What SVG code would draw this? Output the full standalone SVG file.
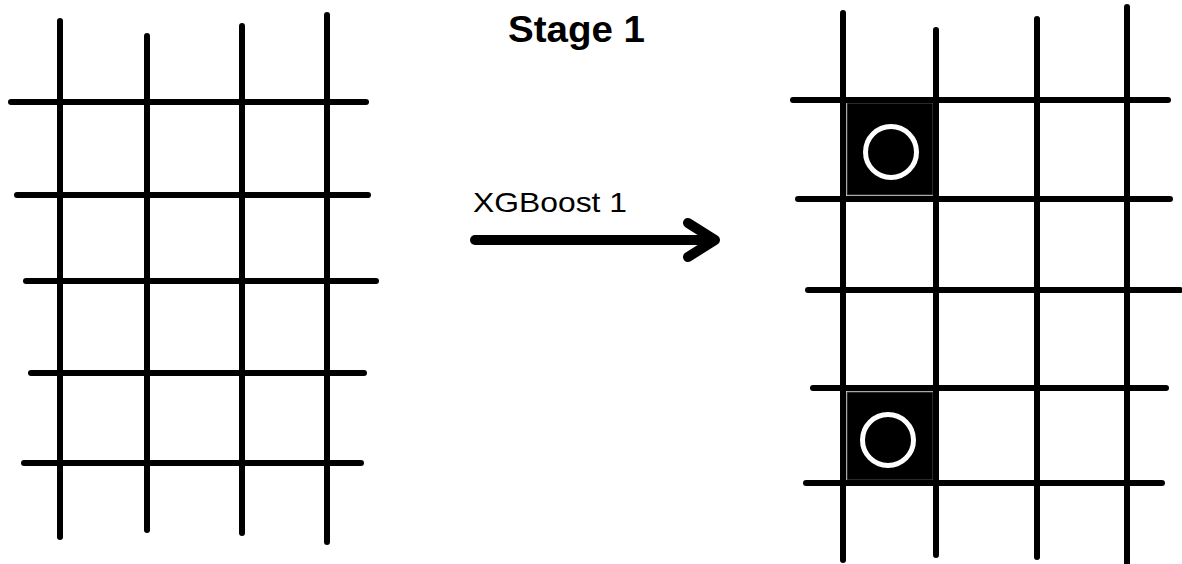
<svg xmlns="http://www.w3.org/2000/svg" width="1182" height="564" viewBox="0 0 1182 564">
  <style>
    .grid line { stroke: #000; stroke-width: 6; stroke-linecap: round; }
    .cell { fill: #000; stroke: #555; stroke-width: 1; }
    .mark { fill: none; stroke: #fff; stroke-width: 5; }
    .title { font-family: "Liberation Sans", Arial, sans-serif; font-weight: bold; font-size: 36px; fill: #000; }
    .label { font-family: "Liberation Sans", Arial, sans-serif; font-size: 28px; fill: #000; }
    .flow { fill: none; stroke: #000; stroke-width: 10; stroke-linecap: round; stroke-linejoin: round; }
  </style>
  <rect width="1182" height="564" fill="#fff"/>

  <text id="title" class="title" x="508" y="42" textLength="137" lengthAdjust="spacingAndGlyphs">Stage 1</text>

  <!-- input grid -->
  <g id="grid-input" class="grid">
    <line x1="60" y1="21" x2="60" y2="537"/>
    <line x1="147" y1="36" x2="147" y2="530"/>
    <line x1="242" y1="26" x2="242" y2="533"/>
    <line x1="327" y1="15" x2="327" y2="542"/>
    <line x1="11" y1="102" x2="366" y2="102"/>
    <line x1="17" y1="195" x2="368" y2="195"/>
    <line x1="26" y1="281" x2="376" y2="281"/>
    <line x1="31" y1="373" x2="364" y2="373"/>
    <line x1="24" y1="463" x2="361" y2="463"/>
  </g>

  <!-- connector -->
  <g id="connectors">
    <text id="label-xgboost" class="label" x="473" y="212" textLength="154" lengthAdjust="spacingAndGlyphs">XGBoost 1</text>
    <line class="flow" x1="475" y1="240" x2="714" y2="240"/>
    <polyline class="flow" points="688,223 715,240 688,257"/>
  </g>

  <!-- output grid -->
  <g id="grid-output">
    <g id="cell-1">
      <rect class="cell" x="847" y="103" width="86" height="92"/>
      <circle class="mark" cx="891" cy="152" r="25.5"/>
    </g>
    <g id="cell-2">
      <rect class="cell" x="847" y="392" width="86" height="88"/>
      <circle class="mark" cx="888" cy="440" r="25.5"/>
    </g>
    <g class="grid">
      <line x1="843" y1="13" x2="843" y2="560"/>
      <line x1="936" y1="30" x2="936" y2="555"/>
      <line x1="1037" y1="19" x2="1037" y2="557"/>
      <line x1="1127" y1="7" x2="1127" y2="566"/>
      <line x1="793" y1="100" x2="1168" y2="100"/>
      <line x1="798" y1="199" x2="1170" y2="199"/>
      <line x1="808" y1="290" x2="1180" y2="290"/>
      <line x1="813" y1="388" x2="1166" y2="388"/>
      <line x1="806" y1="483" x2="1162" y2="483"/>
    </g>
  </g>
</svg>
